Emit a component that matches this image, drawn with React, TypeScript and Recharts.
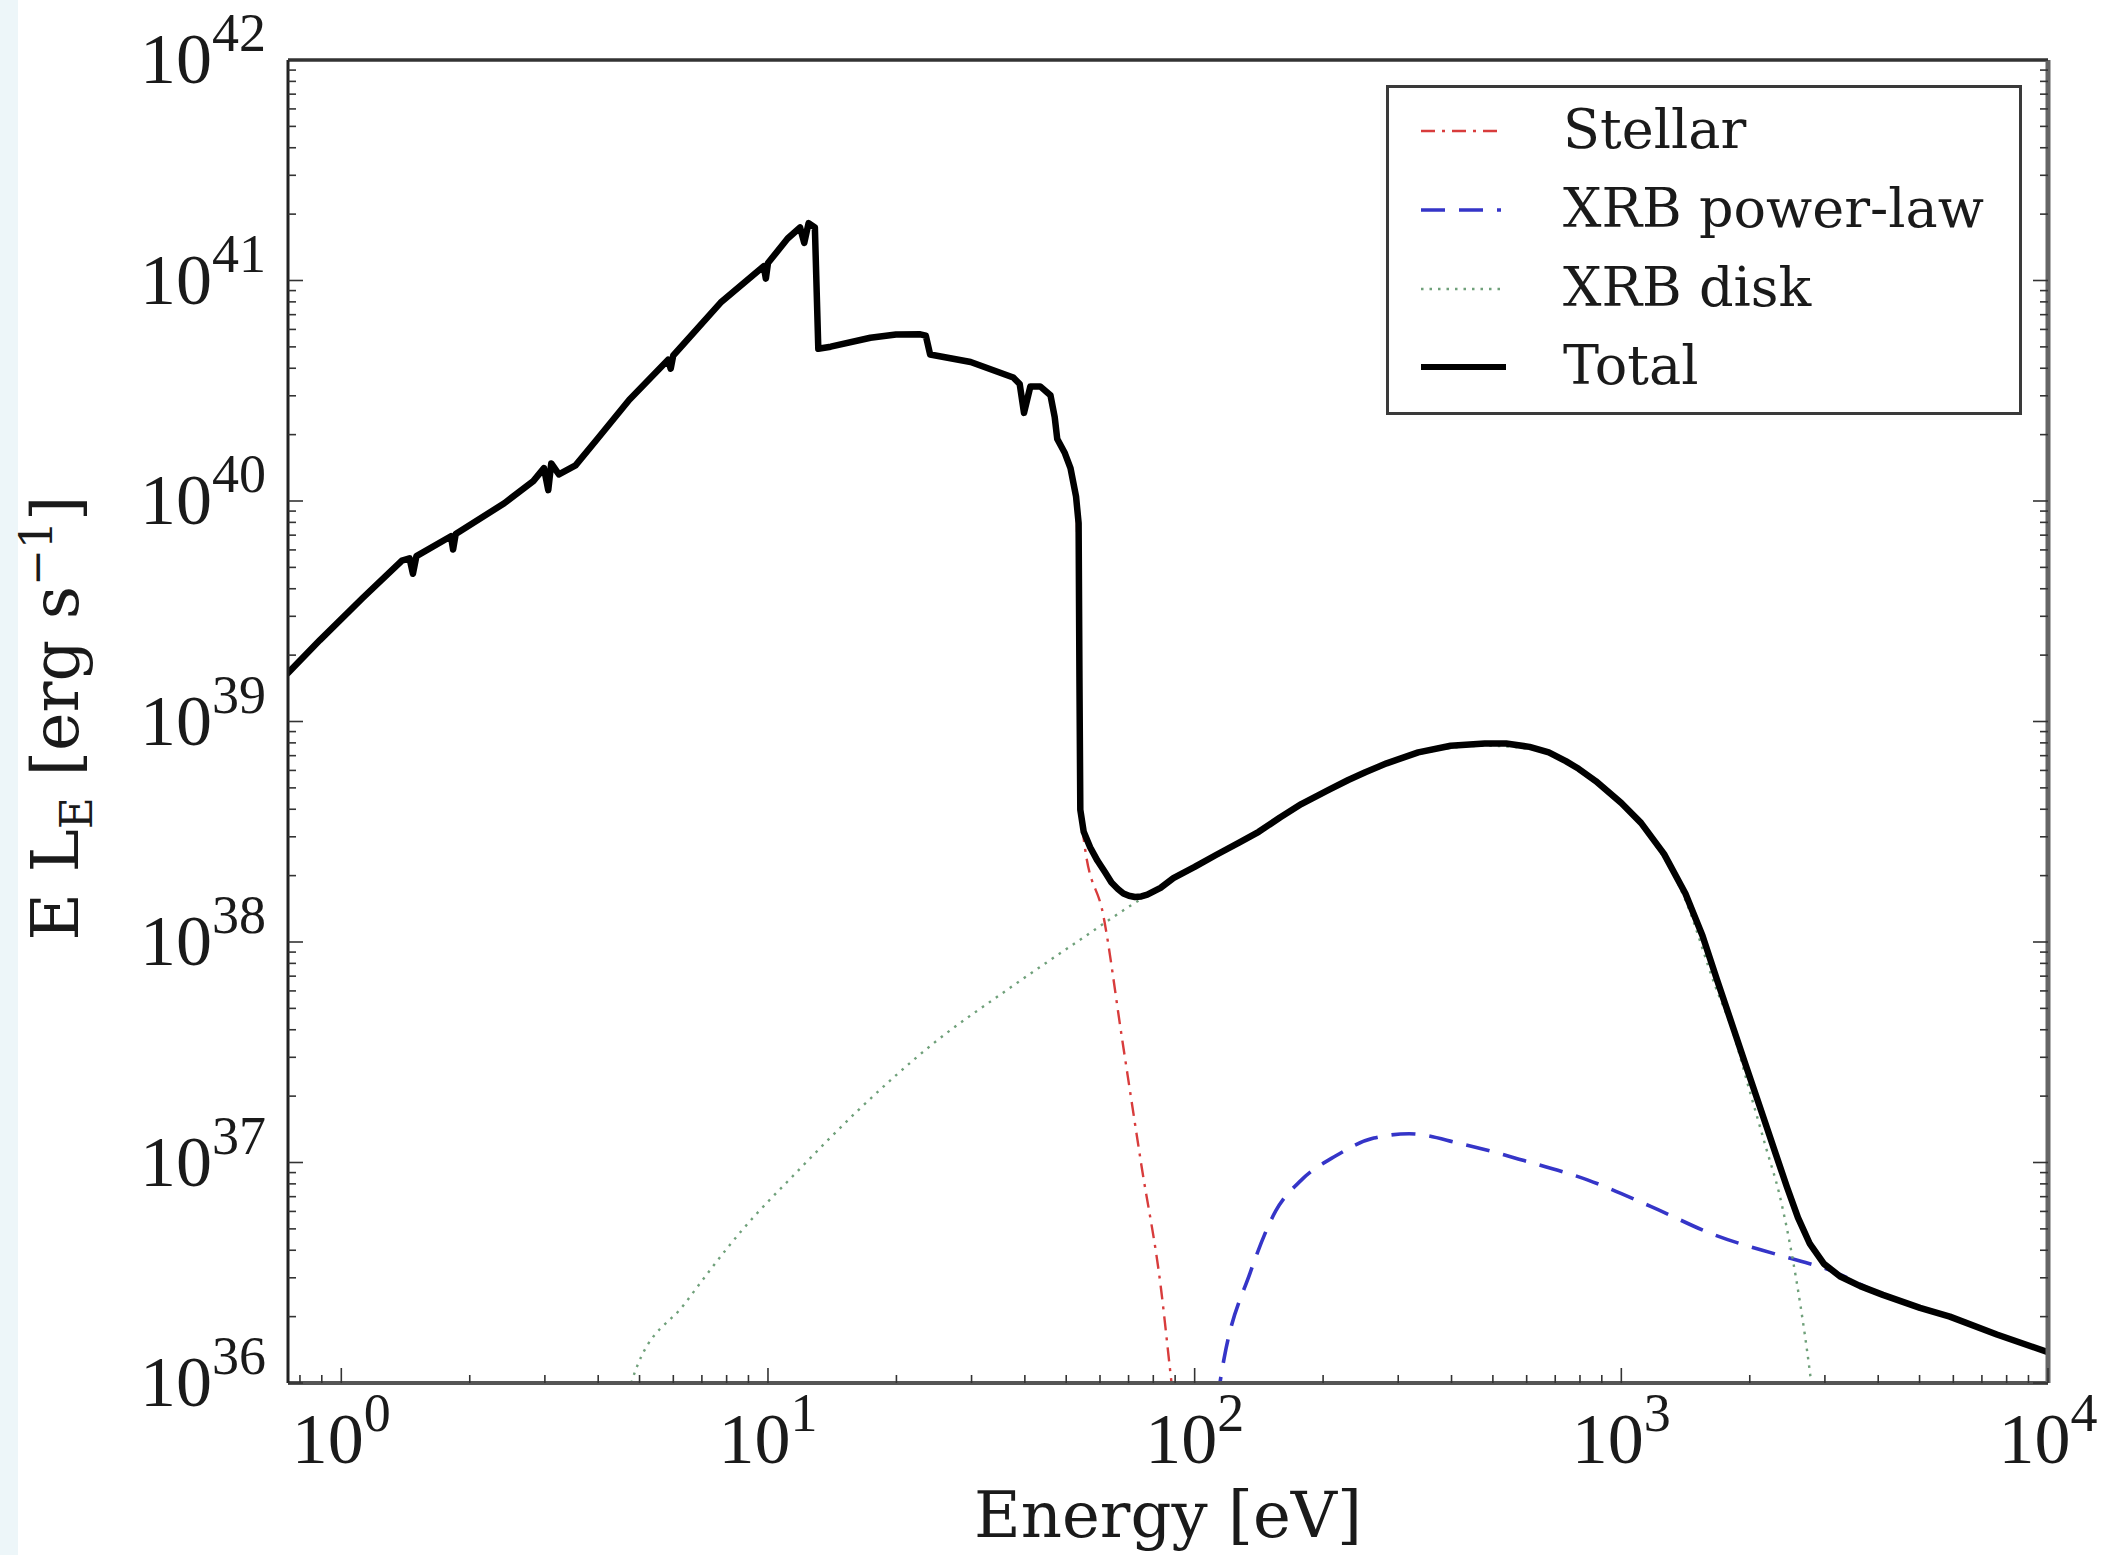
import React from 'react';
import { ComposedChart, Line, XAxis, YAxis, Legend, Customized } from 'recharts';

// ---- Spectral energy distribution: E L_E versus photon energy ----

// Total spectrum
const totalEnergy = [
  0.75, 0.891, 1.122, 1.387, 1.445, 1.472, 1.5, 1.807, 1.828, 1.854, 2.41, 2.818, 2.985, 3.055,
  3.105, 3.236, 3.54, 3.981, 4.732, 5.834, 5.916, 5.998, 7.745, 9.772, 9.886, 10.0, 11.12, 11.89,
  12.16, 12.45, 12.88, 13.12, 14.03, 17.38, 19.95, 22.75, 23.44, 23.99, 29.85, 37.58, 38.9, 39.81,
  41.21, 43.45, 45.92, 46.99, 47.64, 49.55, 51.17, 52.72, 53.46, 53.7, 53.95,
  54.95, 56.89, 59.16, 61.66, 63.83, 66.07, 68.08, 70.15, 72.44, 74.99, 77.45, 83.18, 89.13, 100,
  112.2, 127.1, 141.3, 158.5, 177.8, 206.1, 229.1, 251.2, 281.8, 334.2, 398.1, 478.6, 537.0, 609.5,
  676.1, 741.3, 794.3, 871.0, 1000, 1112, 1259, 1413, 1549, 1675, 1837, 1950, 2080, 2188, 2291,
  2443, 2594, 2767, 2985, 3251, 3631, 4102, 5012, 5888, 7586, 10000,
];
const totalLum = [
  1.66e39, 2.34e39, 3.63e39, 5.37e39, 5.5e39, 4.68e39, 5.62e39, 6.92e39, 6.03e39, 7.08e39, 9.77e39,
  1.23e40, 1.41e40, 1.12e40, 1.48e40, 1.32e40, 1.45e40, 1.91e40, 2.88e40, 4.37e40, 3.98e40, 4.57e40,
  7.94e40, 1.16e41, 1.02e41, 1.2e41, 1.55e41, 1.74e41, 1.48e41, 1.82e41, 1.74e41, 4.9e40, 5.01e40,
  5.5e40, 5.69e40, 5.7e40, 5.62e40, 4.62e40, 4.27e40, 3.63e40, 3.39e40, 2.51e40, 3.31e40, 3.31e40,
  3.02e40, 2.4e40, 1.91e40, 1.66e40, 1.41e40, 1.05e40, 7.94e39, 1.58e39, 3.98e38,
  3.16e38, 2.69e38, 2.34e38, 2.07e38, 1.86e38, 1.74e38, 1.66e38, 1.62e38, 1.6e38, 1.61e38, 1.64e38,
  1.76e38, 1.95e38, 2.19e38, 2.48e38, 2.82e38, 3.16e38, 3.67e38, 4.22e38, 4.9e38, 5.43e38, 5.89e38,
  6.46e38, 7.24e38, 7.76e38, 7.94e38, 7.94e38, 7.67e38, 7.24e38, 6.61e38, 6.1e38, 5.37e38, 4.27e38,
  3.47e38, 2.51e38, 1.66e38, 1.07e38, 6.76e37, 3.98e37, 2.82e37, 1.95e37, 1.46e37, 1.12e37, 7.76e36,
  5.62e36, 4.27e36, 3.47e36, 3.05e36, 2.75e36, 2.51e36, 2.19e36, 2.0e36, 1.66e36, 1.38e36,
];

// Stellar component (its cut-off above ~50 eV)
const stellarEnergy = [50.12, 52.72, 53.7, 54.33, 55.21, 61.09, 67.61, 74.99, 83.37, 87.7, 91.2];
const stellarLum = [1.58e40, 1.0e40, 1.58e39, 3.98e38, 2.75e38, 1.32e38, 3.63e37, 9.77e36, 2.69e36, 1.12e36, 5.62e35];

// X-ray binary power-law component
const powerLawEnergy = [
  109.6, 117.2, 134.9, 154.9, 177.8, 213.8, 263.0, 318.4, 418.8, 591.6, 835.6, 1175, 1660, 2344,
  3090, 4102, 5888, 7586, 10000,
];
const powerLawLum = [
  5.62e35, 1.29e36, 3.16e36, 6.03e36, 8.32e36, 1.07e37, 1.29e37, 1.35e37, 1.22e37, 1.02e37, 8.32e36,
  6.31e36, 4.68e36, 3.8e36, 3.24e36, 2.51e36, 2.0e36, 1.66e36, 1.38e36,
];

// X-ray binary multi-colour disk component
const diskEnergy = [
  4.571, 4.875, 6.383, 8.67, 11.86, 16.14, 24.43, 36.81, 55.72, 71.45, 89.13, 125.9, 199.5, 331.1,
  478.6, 616.6, 871.0, 1122, 1413, 1660, 1820, 1995, 2188, 2344, 2512, 2630, 2754, 2884,
];
const diskLum = [
  7.08e35, 1.12e36, 2.29e36, 4.9e36, 9.33e36, 1.7e37, 3.47e37, 6.17e37, 1.07e38, 1.48e38, 1.91e38,
  2.75e38, 4.68e38, 7.08e38, 7.76e38, 7.5e38, 5.25e38, 3.31e38, 1.55e38, 6.31e37, 3.98e37, 2.14e37,
  1.15e37, 7.24e36, 3.8e36, 2.24e36, 1.2e36, 5.62e35,
];

// Axis ticks and labels
const xMajorTicks = [1, 10, 100, 1000, 10000];
const xMajorExponents = ['0', '1', '2', '3', '4'];
const yMajorTicks = [1e36, 1e37, 1e38, 1e39, 1e40, 1e41, 1e42];
const yMajorExponents = ['36', '37', '38', '39', '40', '41', '42'];
const minorMultipliers = [2, 3, 4, 5, 6, 7, 8, 9];

const xMinorTicks = [0.8, 0.9, ...[1, 10, 100, 1000].flatMap((d) => minorMultipliers.map((m) => m * d))];
const yMinorTicks = [1e36, 1e37, 1e38, 1e39, 1e40, 1e41].flatMap((d) => minorMultipliers.map((m) => m * d));
const xTicks = [...xMajorTicks, ...xMinorTicks].sort((a, b) => a - b);
const yTicks = [...yMajorTicks, ...yMinorTicks].sort((a, b) => a - b);

const toRows = (energy: number[], lum: number[]) => energy.map((E, i) => ({ E, L: lum[i] }));

const SERIES = [
  { name: 'Stellar', rows: toRows(stellarEnergy, stellarLum), color: '#d83c3c', width: 2.4, dash: '14 7 3 7', curve: 'monotone' },
  { name: 'XRB power-law', rows: toRows(powerLawEnergy, powerLawLum), color: '#3535c8', width: 3.6, dash: '24 14', curve: 'monotone' },
  { name: 'XRB disk', rows: toRows(diskEnergy, diskLum), color: '#6fa07a', width: 2.4, dash: '2.5 6', curve: 'monotone' },
  { name: 'Total', rows: toRows(totalEnergy, totalLum), color: '#000000', width: 6.5, dash: undefined as string | undefined, curve: 'linear' },
];

const TICK_FONT = "'Liberation Serif', 'Times New Roman', serif";
const TEXT_FONT = "'DejaVu Serif', serif";
const TEXT_COLOR = '#1a1a1a';
const TICK_COLOR = '#333';
const MAJOR_LEN = 15;
const MINOR_LEN = 8;

const BottomTick = (props: any) => {
  const { x, y, payload } = props;
  const idx = xMajorTicks.indexOf(payload.value);
  const major = idx >= 0;
  return (
    <g>
      <line x1={x} x2={x} y1={y} y2={y - (major ? MAJOR_LEN : MINOR_LEN)} stroke={TICK_COLOR} strokeWidth={1.6} />
      {major && (
        <text x={x} y={y + 80} textAnchor="middle" fontFamily={TICK_FONT} fontSize={72} fill={TEXT_COLOR}>
          10
          <tspan dy={-32} fontSize={54}>
            {xMajorExponents[idx]}
          </tspan>
        </text>
      )}
    </g>
  );
};

const TopTick = (props: any) => {
  const { x, y, payload } = props;
  const major = xMajorTicks.includes(payload.value);
  return <line x1={x} x2={x} y1={y} y2={y + (major ? MAJOR_LEN : MINOR_LEN)} stroke={TICK_COLOR} strokeWidth={1.6} />;
};

const LeftTick = (props: any) => {
  const { x, y, payload } = props;
  const idx = yMajorTicks.indexOf(payload.value);
  const major = idx >= 0;
  return (
    <g>
      <line x1={x} x2={x + (major ? MAJOR_LEN : MINOR_LEN)} y1={y} y2={y} stroke={TICK_COLOR} strokeWidth={1.6} />
      {major && (
        <text x={x - 22} y={y + 23} textAnchor="end" fontFamily={TICK_FONT} fontSize={72} fill={TEXT_COLOR}>
          10
          <tspan dy={-32} fontSize={54}>
            {yMajorExponents[idx]}
          </tspan>
        </text>
      )}
    </g>
  );
};

const RightTick = (props: any) => {
  const { x, y, payload } = props;
  const major = yMajorTicks.includes(payload.value);
  return <line x1={x} x2={x - (major ? MAJOR_LEN : MINOR_LEN)} y1={y} y2={y} stroke={TICK_COLOR} strokeWidth={1.6} />;
};

const AxisTitles = () => (
  <g fontFamily={TEXT_FONT} fill={TEXT_COLOR}>
    <text x={1168} y={1537} fontSize={64} textAnchor="middle">
      Energy [eV]
    </text>
    <text transform="translate(78,718) rotate(-90)" fontSize={65} textAnchor="middle">
      E L
      <tspan dy={14} fontSize={44}>
        E
      </tspan>
      <tspan dy={-14}>{' [erg s'}</tspan>
      <tspan dy={-26} fontSize={44}>
        −1
      </tspan>
      <tspan dy={26}>]</tspan>
    </text>
  </g>
);

const LegendBox = () => {
  const rowTop = [60, 139, 218, 296];
  return (
    <div
      style={{
        width: 636,
        height: 330,
        boxSizing: 'border-box',
        border: '3px solid #3a3a3a',
        background: '#fff',
      }}
    >
      <svg width={630} height={324} style={{ display: 'block' }}>
        {SERIES.map((s, i) => (
          <g key={s.name}>
            <line
              x1={32}
              x2={s.dash ? 112 : 117}
              y1={rowTop[i] - 17}
              y2={rowTop[i] - 17}
              stroke={s.color}
              strokeWidth={s.dash ? s.width : 6}
              strokeDasharray={s.dash}
            />
            <text x={174} y={rowTop[i]} fontFamily={TEXT_FONT} fontSize={54} fill={TEXT_COLOR}>
              {s.name}
            </text>
          </g>
        ))}
      </svg>
    </div>
  );
};

export default function App() {
  return (
    <div style={{ position: 'absolute', left: 0, top: 0, width: 2111, height: 1555, background: '#fff', overflow: 'hidden' }}>
      <div style={{ position: 'absolute', left: 0, top: 0, width: 18, height: 1555, background: '#edf6f9' }} />
      <div style={{ position: 'absolute', left: 0, top: 0 }}>
        <ComposedChart width={2111} height={1555} margin={{ top: 0, right: 0, bottom: 0, left: 0 }}>
          <XAxis
            xAxisId="x"
            dataKey="E"
            type="number"
            scale="log"
            domain={[0.75, 10000]}
            allowDataOverflow
            ticks={xTicks}
            interval={0}
            height={172}
            tickSize={0}
            tickMargin={0}
            tickLine={false}
            axisLine={{ stroke: '#555', strokeWidth: 4 }}
            tick={<BottomTick />}
          />
          <XAxis
            xAxisId="top"
            orientation="top"
            type="number"
            scale="log"
            domain={[0.75, 10000]}
            allowDataOverflow
            ticks={xTicks}
            interval={0}
            height={60}
            tickSize={0}
            tickMargin={0}
            tickLine={false}
            axisLine={{ stroke: '#333', strokeWidth: 3.5 }}
            tick={<TopTick />}
          />
          <YAxis
            yAxisId="y"
            type="number"
            scale="log"
            domain={[1e36, 1e42]}
            allowDataOverflow
            ticks={yTicks}
            interval={0}
            width={288}
            tickSize={0}
            tickMargin={0}
            tickLine={false}
            axisLine={{ stroke: '#222', strokeWidth: 3 }}
            tick={<LeftTick />}
          />
          <YAxis
            yAxisId="right"
            orientation="right"
            type="number"
            scale="log"
            domain={[1e36, 1e42]}
            allowDataOverflow
            ticks={yTicks}
            interval={0}
            width={63}
            tickSize={0}
            tickMargin={0}
            tickLine={false}
            axisLine={{ stroke: '#666', strokeWidth: 5 }}
            tick={<RightTick />}
          />
          {SERIES.map((s) => (
            <Line
              key={s.name}
              name={s.name}
              data={s.rows}
              dataKey="L"
              xAxisId="x"
              yAxisId="y"
              type={s.curve as any}
              stroke={s.color}
              strokeWidth={s.width}
              strokeDasharray={s.dash}
              strokeLinejoin="round"
              strokeLinecap={s.dash ? 'butt' : 'round'}
              dot={false}
              activeDot={false}
              isAnimationActive={false}
            />
          ))}
          <Legend
            layout="vertical"
            verticalAlign="middle"
            align="center"
            wrapperStyle={{ left: 1386, top: 85, width: 636, height: 330 }}
            content={<LegendBox />}
          />
          <Customized component={AxisTitles} />
        </ComposedChart>
      </div>
    </div>
  );
}
